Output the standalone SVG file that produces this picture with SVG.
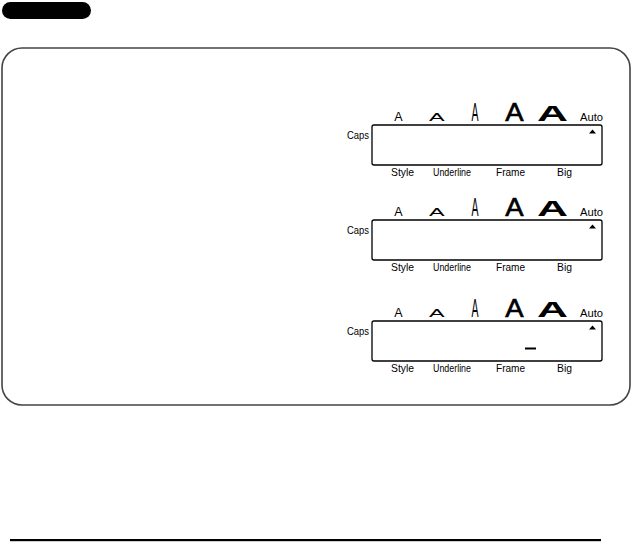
<svg xmlns="http://www.w3.org/2000/svg" width="634" height="542" viewBox="0 0 634 542">
<style>
.t{font-family:"Liberation Sans",Arial,sans-serif;font-size:10.5px;fill:#000}
.ga{font-family:"Liberation Sans",Arial,sans-serif;fill:#000;text-anchor:middle}
.b{font-weight:bold}
.lcd{fill:#fff;stroke:#000;stroke-width:1.3}
</style>
<rect id="tab" x="2" y="2" width="89" height="17" rx="8.5" fill="#000"/>
<rect id="frame" x="2" y="48" width="628" height="357" rx="20" fill="none" stroke="#444" stroke-width="1.6"/>

<g id="panel1">
  <text class="ga" font-size="12.5" transform="translate(398.3,121)">A</text>
  <text class="ga" font-size="12" transform="translate(436.7,121) scale(1.95,0.9)">A</text>
  <text class="ga" font-size="25" transform="translate(475,121) scale(0.42,1)">A</text>
  <text class="ga" font-size="25" stroke="#000" stroke-width="0.6" transform="translate(514.5,121) scale(1.1,1)">A</text>
  <text class="ga b" font-size="22" transform="translate(552.5,120.5) scale(1.95,1)">A</text>
  <text class="t" x="580" y="121" textLength="23" lengthAdjust="spacingAndGlyphs">Auto</text>
  <text class="t" x="347" y="139" textLength="22" lengthAdjust="spacingAndGlyphs">Caps</text>
  <rect class="lcd" x="372" y="125" width="230" height="40" rx="2"/>
  <polygon points="589,133.5 596,133.5 592.5,129.5" fill="#000"/>
  <text class="t" x="391" y="176" textLength="23" lengthAdjust="spacingAndGlyphs">Style</text>
  <text class="t" x="433" y="176" textLength="38" lengthAdjust="spacingAndGlyphs">Underline</text>
  <text class="t" x="496" y="176" textLength="29" lengthAdjust="spacingAndGlyphs">Frame</text>
  <text class="t" x="557" y="176" textLength="15" lengthAdjust="spacingAndGlyphs">Big</text>
</g>

<g id="panel2" transform="translate(0,95)">
  <text class="ga" font-size="12.5" transform="translate(398.3,121)">A</text>
  <text class="ga" font-size="12" transform="translate(436.7,121) scale(1.95,0.9)">A</text>
  <text class="ga" font-size="25" transform="translate(475,121) scale(0.42,1)">A</text>
  <text class="ga" font-size="25" stroke="#000" stroke-width="0.6" transform="translate(514.5,121) scale(1.1,1)">A</text>
  <text class="ga b" font-size="22" transform="translate(552.5,120.5) scale(1.95,1)">A</text>
  <text class="t" x="580" y="121" textLength="23" lengthAdjust="spacingAndGlyphs">Auto</text>
  <text class="t" x="347" y="139" textLength="22" lengthAdjust="spacingAndGlyphs">Caps</text>
  <rect class="lcd" x="372" y="125" width="230" height="40" rx="2"/>
  <polygon points="589,133.5 596,133.5 592.5,129.5" fill="#000"/>
  <text class="t" x="391" y="176" textLength="23" lengthAdjust="spacingAndGlyphs">Style</text>
  <text class="t" x="433" y="176" textLength="38" lengthAdjust="spacingAndGlyphs">Underline</text>
  <text class="t" x="496" y="176" textLength="29" lengthAdjust="spacingAndGlyphs">Frame</text>
  <text class="t" x="557" y="176" textLength="15" lengthAdjust="spacingAndGlyphs">Big</text>
</g>

<g id="panel3" transform="translate(0,196)">
  <text class="ga" font-size="12.5" transform="translate(398.3,121)">A</text>
  <text class="ga" font-size="12" transform="translate(436.7,121) scale(1.95,0.9)">A</text>
  <text class="ga" font-size="25" transform="translate(475,121) scale(0.42,1)">A</text>
  <text class="ga" font-size="25" stroke="#000" stroke-width="0.6" transform="translate(514.5,121) scale(1.1,1)">A</text>
  <text class="ga b" font-size="22" transform="translate(552.5,120.5) scale(1.95,1)">A</text>
  <text class="t" x="580" y="121" textLength="23" lengthAdjust="spacingAndGlyphs">Auto</text>
  <text class="t" x="347" y="139" textLength="22" lengthAdjust="spacingAndGlyphs">Caps</text>
  <rect class="lcd" x="372" y="125" width="230" height="40" rx="2"/>
  <polygon points="589,133.5 596,133.5 592.5,129.5" fill="#000"/>
  <rect x="525" y="151.5" width="11" height="2" fill="#000"/>
  <text class="t" x="391" y="176" textLength="23" lengthAdjust="spacingAndGlyphs">Style</text>
  <text class="t" x="433" y="176" textLength="38" lengthAdjust="spacingAndGlyphs">Underline</text>
  <text class="t" x="496" y="176" textLength="29" lengthAdjust="spacingAndGlyphs">Frame</text>
  <text class="t" x="557" y="176" textLength="15" lengthAdjust="spacingAndGlyphs">Big</text>
</g>

<g id="connectors"></g>
<rect id="rule" x="10" y="539" width="591" height="2.2" fill="#000"/>
</svg>
